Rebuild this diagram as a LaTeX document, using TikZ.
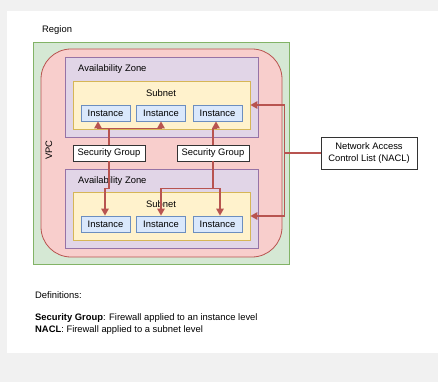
\documentclass[tikz,border=0pt]{standalone}
\usepackage{fontspec}
\setmainfont{Liberation Sans}
\usetikzlibrary{arrows.meta}
\definecolor{bggray}{HTML}{F1F1F1}
\definecolor{vpcfill}{HTML}{D5E8D4}
\definecolor{vpcline}{HTML}{82B366}
\definecolor{redfill}{HTML}{F8CECC}
\definecolor{redline}{HTML}{B85450}
\definecolor{azfill}{HTML}{E1D5E7}
\definecolor{azline}{HTML}{9673A6}
\definecolor{snfill}{HTML}{FFF2CC}
\definecolor{snline}{HTML}{D6B656}
\definecolor{infill}{HTML}{DAE8FC}
\definecolor{inline}{HTML}{6C8EBF}
\tikzset{
  box/.style={draw, line width=0.8pt, inner sep=0pt, rectangle},
  vpcbox/.style={box, fill=vpcfill, draw=vpcline},
  pinkbox/.style={box, fill=redfill, draw=redline, rounded corners=30pt},
  azbox/.style={box, fill=azfill, draw=azline},
  snbox/.style={box, fill=snfill, draw=snline},
  instbox/.style={box, fill=infill, draw=inline, minimum width=49pt, minimum height=16pt},
  whitebox/.style={box, fill=white, draw=black!80},
  conn/.style={draw=redline, line width=1.4pt, -{Triangle[length=7pt,width=7.5pt]}},
  lbl/.style={inner sep=0pt},
}
\begin{document}
\begin{tikzpicture}[x=1pt,y=-1pt, font=\fontsize{9.4}{11.5}\selectfont]
\useasboundingbox (0,0) rectangle (438,382);
\fill[bggray] (0,0) rectangle (438,382);
\fill[white] (7,11) rectangle (438,353);

\node[lbl, anchor=west] (region) at (42,30) {Region};

\node[vpcbox, minimum width=256pt, minimum height=222pt] (vpc) at (161,153) {};
\node[pinkbox, minimum width=241pt, minimum height=208pt] (pink) at (161.5,153) {};
\node[lbl, rotate=90] (vpclbl) at (49,150) {VPC};

\node[azbox, minimum width=193pt, minimum height=80pt] (aztop) at (161.5,97) {};
\node[lbl, anchor=west] (aztoplbl) at (78,69) {Availability Zone};
\node[snbox, minimum width=177pt, minimum height=48pt] (sntop) at (161.5,105) {};
\node[lbl] (sntoplbl) at (161,93) {Subnet};
\node[instbox] (i1) at (105.5,113) {Instance};
\node[instbox] (i2) at (161,113) {Instance};
\node[instbox] (i3) at (217.5,113) {Instance};

\node[azbox, minimum width=193pt, minimum height=79pt] (azbot) at (161.5,208.5) {};
\node[lbl, anchor=west] (azbotlbl) at (78,181) {Availability Zone};
\node[snbox, minimum width=177pt, minimum height=48pt] (snbot) at (161.5,216) {};
\node[lbl] (snbotlbl) at (161,204) {Subnet};
\node[instbox] (b1) at (105.5,224) {Instance};
\node[instbox] (b2) at (161,224) {Instance};
\node[instbox] (b3) at (217.5,224) {Instance};

\node[whitebox, minimum width=72pt, minimum height=16pt] (sg1) at (109,153) {Security Group};
\node[whitebox, minimum width=72pt, minimum height=16pt] (sg2) at (213,153) {Security Group};

\node[whitebox, minimum width=96pt, minimum height=32pt, align=center] (nacl) at (369,153) {Network Access\\Control List (NACL)};

% security group 1
\draw[conn] (sg1.north) -- ++(0,-16) -| ([xshift=-7.5pt]i1.south);
\draw[conn] (sg1.north) -- ++(0,-16) -| (i2.south);
\draw[conn] (sg1.south) -- ++(0,27) -| ([xshift=-0.5pt]b1.north);
% security group 2
\draw[conn] (sg2.north) -- ++(0,-16) -| ([xshift=-1.5pt]i3.south);
\draw[conn] (sg2.south) -- ++(0,27) -| (b2.north);
\draw[conn] (sg2.south) -- ++(0,27) -| ([xshift=2.5pt]b3.north);
% NACL
\draw[conn] (nacl.west) -- ++(-36,0) |- (sntop.east);
\draw[conn] (nacl.west) -- ++(-36,0) |- (snbot.east);

\node[lbl, anchor=west] (defs) at (35,295) {Definitions:};
\node[lbl, anchor=west] (def1) at (35,318) {\textbf{Security Group}: Firewall applied to an instance level};
\node[lbl, anchor=west] (def2) at (35,330) {\textbf{NACL}: Firewall applied to a subnet level};
\end{tikzpicture}
\end{document}
